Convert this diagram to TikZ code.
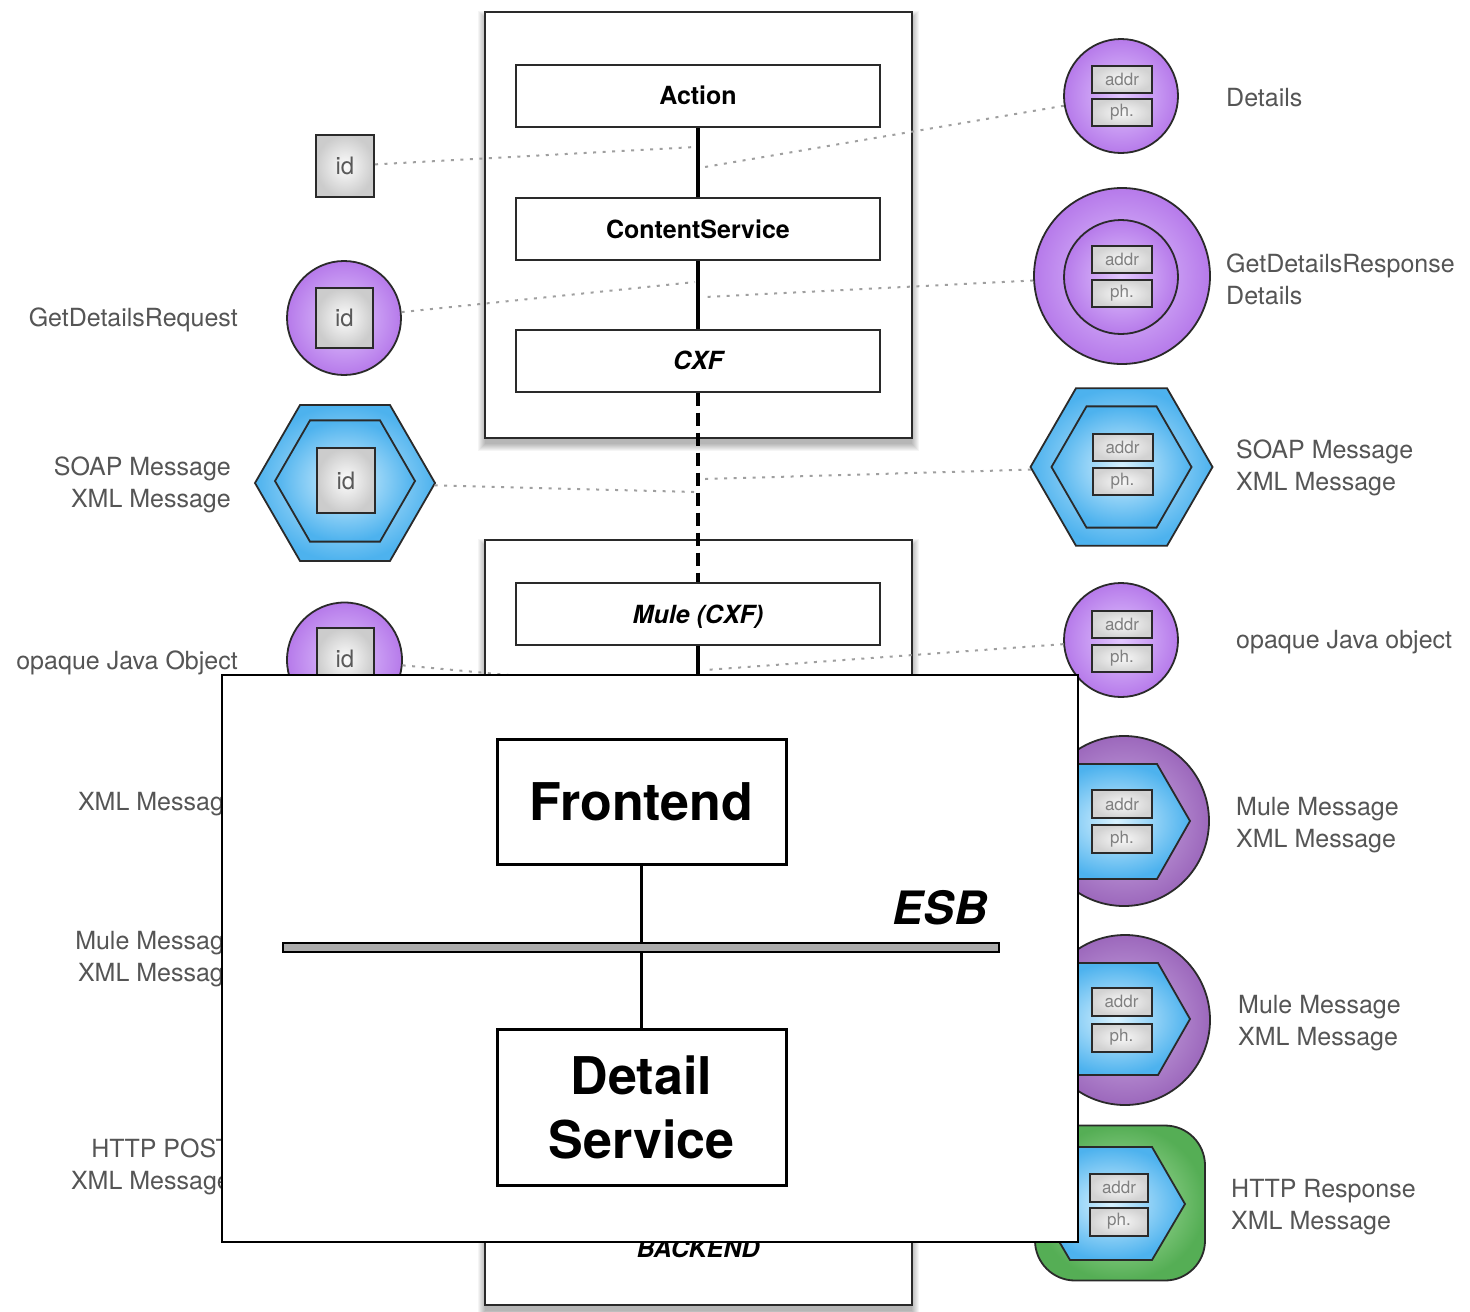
\documentclass[tikz,border=0pt]{standalone}
\usepackage{fontspec}
\setmainfont{TeX Gyre Heros}
\usetikzlibrary{shapes.geometric}
\definecolor{labelgray}{HTML}{555555}
\definecolor{purpIn}{HTML}{E2C8FF}
\definecolor{purpOut}{HTML}{B67AEA}
\definecolor{mpurpIn}{HTML}{D0B2E6}
\definecolor{mpurpOut}{HTML}{9C68BC}
\definecolor{blueIn}{HTML}{D8F2FF}
\definecolor{blueOut}{HTML}{4DB2EE}
\definecolor{greenIn}{HTML}{B4E6AC}
\definecolor{greenOut}{HTML}{55AE55}
\definecolor{fieldtext}{HTML}{808080}
\definecolor{edgegray}{HTML}{2A2A2A}
\newcommand{\mylblfont}{\fontsize{25}{32}\selectfont}
\newcommand{\mylayerfont}{\fontsize{25}{30}\selectfont\bfseries}
\newcommand{\mybigfont}{\fontsize{52}{64}\selectfont\bfseries}
\newcommand{\myidfont}{\fontsize{24}{28}\selectfont}
\newcommand{\myfieldfont}{\fontsize{17}{20}\selectfont}
\begin{document}
\begin{tikzpicture}[x=1pt,y=-1pt,
  cont/.style={rectangle, draw=edgegray, line width=2.2pt, fill=white, inner sep=0pt},
  layer/.style={rectangle, draw=edgegray, line width=2pt, fill=white, minimum width=364pt, minimum height=62pt, inner sep=0pt, font=\mylayerfont, text height=18pt, text depth=0pt},
  spine/.style={line width=3.5pt, black},
  spinedash/.style={line width=4.5pt, black, dash pattern=on 13pt off 7pt},
  dotline/.style={draw=gray!75, line width=2pt, dash pattern=on 3pt off 6.5pt},
  lblL/.style={anchor=east, align=right, font=\mylblfont, text=labelgray, inner sep=0pt, yshift=-2pt},
  lblR/.style={anchor=west, align=left, font=\mylblfont, text=labelgray, inner sep=0pt, yshift=-2pt},
  idbox/.style={rectangle, draw=edgegray, line width=2pt, inner sep=0pt, minimum width=58pt, minimum height=62pt, inner color=gray!2, outer color=gray!40, font=\myidfont, text=gray!70!black},
  fieldbox/.style={rectangle, draw=edgegray, line width=2pt, inner sep=0pt, minimum width=60pt, minimum height=27pt, inner color=gray!5, outer color=gray!35, font=\myfieldfont, text=fieldtext},
  pcirc/.style={circle, draw=edgegray, line width=1.8pt, inner sep=0pt, inner color=purpIn, outer color=purpOut},
  mcirc/.style={circle, draw=edgegray, line width=1.8pt, inner sep=0pt, inner color=mpurpIn, outer color=mpurpOut},
  bhex/.style={regular polygon, regular polygon sides=6, draw=edgegray, line width=1.8pt, inner sep=0pt, inner color=blueIn, outer color=blueOut},
  bshape/.style={draw=edgegray, line width=1.8pt, inner color=blueIn, outer color=blueOut},
  bigbox/.style={rectangle, draw=black, line width=3pt, fill=white, minimum width=289pt, inner sep=0pt, font=\mybigfont, align=center}
]
\useasboundingbox (0,0) rectangle (1470,1312);
\fill[white] (0,0) rectangle (1470,1312);

% ---- shadows of the two containers
\foreach \i in {0,...,7}{
  \fill[black, opacity=0.04] (485-\i,18-\i) rectangle (912+\i,444+\i);
  \fill[black, opacity=0.04] (485-\i,546-\i) rectangle (912+\i,1311+\i);
}

% ---- containers
\node[cont, minimum width=427pt, minimum height=426pt] (topc) at (698.5,225) {};
\node[cont, minimum width=427pt, minimum height=765pt] (botc) at (698.5,922.5) {};

% ---- layers
\node[layer] (action) at (698,95.5) {Action};
\node[layer] (cs) at (698,229) {ContentService};
\node[layer] (cxf) at (698,360.5) {\itshape CXF};
\node[layer] (mule) at (698,614) {\itshape Mule (CXF)};
\coordinate (mdown) at (698,730);

\draw[spine] (action) -- (cs);
\draw[spine] (cs) -- (cxf);
\draw[spinedash] (cxf) -- (mule);
\draw[spine] (mule) -- (mdown);

\node[font=\mylayerfont\itshape] (backend) at (698,1248) {BACKEND};

% ---- spine coordinates for dotted links
\coordinate (a1) at (695,147);
\coordinate (b1) at (705,167);
\coordinate (a2) at (695,282);
\coordinate (b2) at (705,297);
\coordinate (a3) at (694,492);
\coordinate (b3) at (705,479);
\coordinate (a4) at (694,692);
\coordinate (b4) at (705,670);

% ---- left objects
\node[idbox] (id1) at (345,166) {id};

\node[pcirc, minimum size=114pt] (gdreq) at (344,318) {};
\node[idbox, minimum width=57pt, minimum height=60pt] (gdreqid) at (344.5,318) {id};

\node[bhex, minimum size=180pt] (soapl) at (345,483) {};
\node[bhex, minimum size=140pt] (soapli) at (345,481) {};
\node[idbox, minimum height=65pt] (soaplid) at (346,480.5) {id};

\node[pcirc, minimum size=115pt] (opl) at (344.5,660) {};
\node[idbox, minimum width=57pt] (oplid) at (345,659) {id};

% ---- right objects
\node[pcirc, minimum size=114pt] (det) at (1121,96) {};
\node[fieldbox] (detA) at (1122,79) {addr};
\node[fieldbox] (detP) at (1122,112.5) {ph.};

\node[pcirc, minimum size=176pt] (gdres) at (1122,276) {};
\node[pcirc, minimum size=114pt] (gdresi) at (1121,277) {};
\node[fieldbox] (gdresA) at (1122,259.5) {addr};
\node[fieldbox] (gdresP) at (1122,293.5) {ph.};

\node[bhex, minimum size=182pt] (soapr) at (1121.5,467) {};
\node[bhex, minimum size=140pt] (soapri) at (1121.5,467) {};
\node[fieldbox] (soaprA) at (1122.5,447) {addr};
\node[fieldbox] (soaprP) at (1122.5,481.5) {ph.};

\node[pcirc, minimum size=114pt] (opr) at (1121,640) {};
\node[fieldbox] (oprA) at (1122,624) {addr};
\node[fieldbox] (oprP) at (1122,658) {ph.};

\node[mcirc, minimum size=170pt] (mule1) at (1124,821) {};
\path[bshape] (1042,821) -- (1075,764) -- (1157,764) -- (1190,821) -- (1157,879) -- (1075,879) -- cycle;
\node[fieldbox, minimum height=28pt] (mule1A) at (1122,804) {addr};
\node[fieldbox, minimum height=28pt] (mule1P) at (1122,839) {ph.};

\node[mcirc, minimum size=170pt] (mule2) at (1125,1020) {};
\path[bshape] (1042,1019) -- (1075,963) -- (1158,963) -- (1190,1019) -- (1158,1075) -- (1075,1075) -- cycle;
\node[fieldbox, minimum height=28pt] (mule2A) at (1121.5,1001.5) {addr};
\node[fieldbox, minimum height=28pt] (mule2P) at (1121.5,1037.5) {ph.};

\node[rectangle, rounded corners=40pt, draw=edgegray, line width=1.8pt, inner sep=0pt, minimum width=170pt, minimum height=155pt, inner color=greenIn, outer color=greenOut] (http) at (1120,1203) {};
\path[bshape] (1037,1204) -- (1070,1147) -- (1152,1147) -- (1185,1204) -- (1152,1260) -- (1070,1260) -- cycle;
\node[fieldbox, minimum width=58pt, minimum height=28pt] (httpA) at (1119,1187.5) {addr};
\node[fieldbox, minimum width=58pt, minimum height=28pt] (httpP) at (1119,1221.5) {ph.};

% ---- dotted links
\draw[dotline] (id1) -- (a1);
\draw[dotline] (det) -- (b1);
\draw[dotline] (gdreq) -- (a2);
\draw[dotline] (gdres) -- (b2);
\draw[dotline] (soapl) -- (a3);
\draw[dotline] (soapr) -- (b3);
\draw[dotline] (opl) -- (a4);
\draw[dotline] (opr) -- (b4);

% ---- labels
\node[lblL] (tGdreq) at (238,318) {GetDetailsRequest};
\node[lblL] (tSoapl) at (231,483) {SOAP Message\\XML Message};
\node[lblL] (tOpl) at (238,661) {opaque Java Object};
\node[lblL] (tXmll) at (238,802) {XML Message};
\node[lblL] (tMulel) at (238,957) {Mule Message\\XML Message};
\node[lblL] (tHttpl) at (231,1165) {HTTP POST\\XML Message};

\node[lblR] (tDet) at (1226,96) {Details};
\node[lblR] (tGdres) at (1226,277) {GetDetailsResponse\\Details};
\node[lblR] (tSoapr) at (1236,466) {SOAP Message\\XML Message};
\node[lblR] (tOpr) at (1236,640) {opaque Java object};
\node[lblR] (tMule1) at (1236,823) {Mule Message\\XML Message};
\node[lblR] (tMule2) at (1238,1021) {Mule Message\\XML Message};
\node[lblR] (tHttpr) at (1231,1205) {HTTP Response\\XML Message};

% ---- overlay panel
\node[rectangle, draw=black, line width=1.6pt, fill=white, minimum width=856pt, minimum height=567pt, inner sep=0pt] (ov) at (650,958.5) {};
\node[bigbox, minimum height=125pt] (fe) at (641.5,801.5) {Frontend};
\node[bigbox, minimum height=156pt] (ds) at (641.5,1107) {Detail\\Service};
\node[rectangle, draw=black, line width=2.5pt, fill=gray!65, minimum width=716pt, minimum height=9pt, inner sep=0pt] (esb) at (641,947.5) {};
\draw[line width=2.5pt] (fe.south) -- (fe.south |- esb.north);
\draw[line width=2.5pt] (ds.north |- esb.south) -- (ds.north);
\node[font=\fontsize{46}{50}\selectfont\bfseries\itshape, inner sep=0pt] (esbl) at (940,908) {ESB};
\end{tikzpicture}
\end{document}
